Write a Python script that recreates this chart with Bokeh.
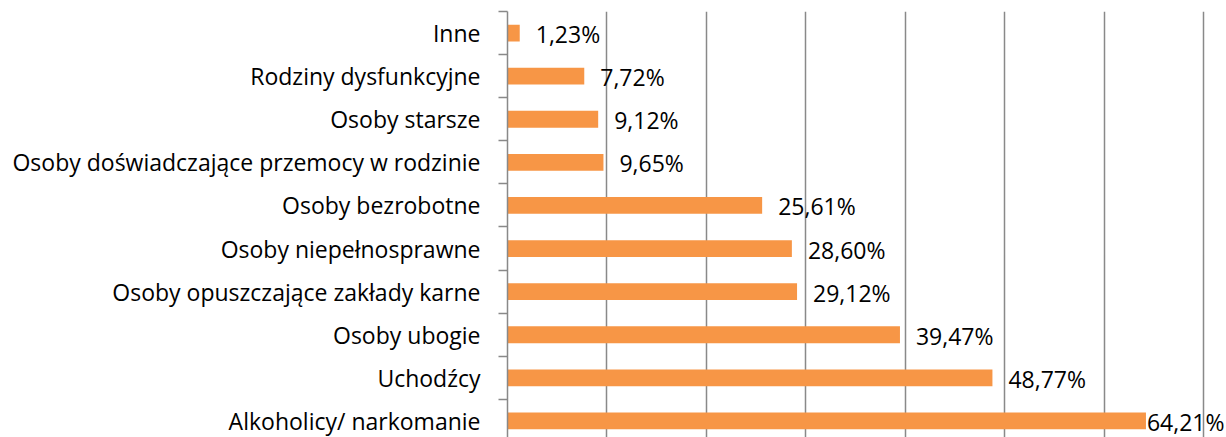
from bokeh.plotting import figure
from bokeh.models import Range1d, FixedTicker, ColumnDataSource
from bokeh.core.properties import value
from bokeh.embed import file_html
from bokeh.resources import INLINE

categories = [
    "Inne",
    "Rodziny dysfunkcyjne",
    "Osoby starsze",
    "Osoby doświadczające przemocy w rodzinie",
    "Osoby bezrobotne",
    "Osoby niepełnosprawne",
    "Osoby opuszczające zakłady karne",
    "Osoby ubogie",
    "Uchodźcy",
    "Alkoholicy/ narkomanie",
]
values = [1.23, 7.72, 9.12, 9.65, 25.61, 28.60, 29.12, 39.47, 48.77, 64.21]
value_labels = ["1,23%", "7,72%", "9,12%", "9,65%", "25,61%", "28,60%",
                "29,12%", "39,47%", "48,77%", "64,21%"]
grid_ticks = [0, 10, 20, 30, 40, 50, 60, 70]

n = len(categories)
ypos = [n - 1 - i for i in range(n)]

X_MAX = 72.31
# labels that would run past the right edge are pulled in against the bar
offsets = [16 if v < 60 else 1 for v in values]

src = ColumnDataSource(dict(y=ypos, v=values, lab=value_labels, off=offsets))

FONT = "Open Sans"

p = figure(width=1226, height=437, output_backend="svg", toolbar_location=None,
           x_range=Range1d(0, X_MAX), y_range=Range1d(-0.384, 9.5),
           min_border_left=507, min_border_right=0, min_border_top=11,
           min_border_bottom=0)
p.outline_line_color = None
p.background_fill_color = "white"

p.hbar(y="y", right="v", left=0, height=0.39, source=src,
       fill_color="#F79646", line_color=None)

p.text(x="v", y="y", text="lab", source=src, text_font=value(FONT),
       text_font_size="23px", text_baseline="middle", text_align="left",
       x_offset="off", y_offset=1, text_color="black")

p.xaxis.visible = False
p.xgrid.ticker = FixedTicker(ticks=grid_ticks)
p.xgrid.grid_line_color = "#898989"
p.xgrid.grid_line_width = 1.5
p.ygrid.grid_line_color = None

ya = p.yaxis[0]
ya.ticker = FixedTicker(ticks=ypos, minor_ticks=[k - 0.5 for k in range(n + 1)])
ya.major_label_overrides = {n - 1 - i: c for i, c in enumerate(categories)}
ya.major_tick_out = 0
ya.major_tick_in = 0
ya.minor_tick_out = 9
ya.minor_tick_in = 0
ya.minor_tick_line_color = "#898989"
ya.minor_tick_line_width = 1.5
ya.axis_line_color = "#898989"
ya.axis_line_width = 1.5
ya.major_label_standoff = 18
ya.major_label_text_font = FONT
ya.major_label_text_font_size = "23px"
ya.major_label_text_color = "black"

open("out.html", "w").write(file_html(p, INLINE))
